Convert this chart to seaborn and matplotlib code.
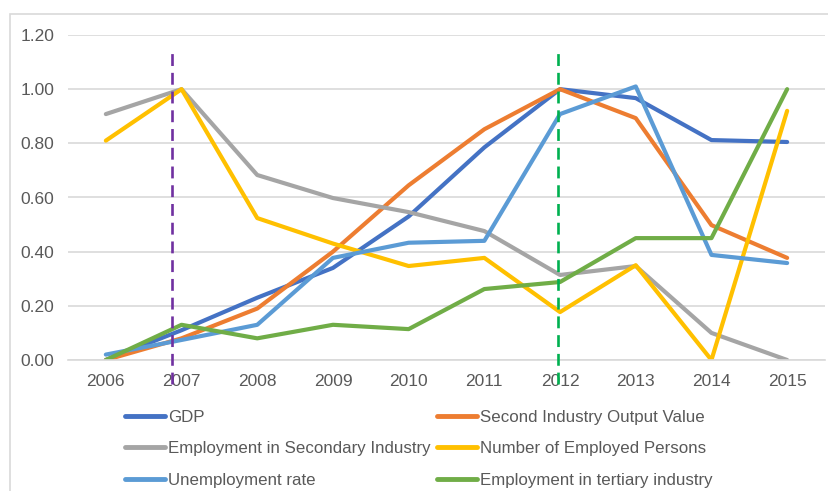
import matplotlib
matplotlib.use("Agg")
import matplotlib.pyplot as plt
import seaborn as sns
import pandas as pd
from matplotlib.patches import Rectangle

years = [2006, 2007, 2008, 2009, 2010, 2011, 2012, 2013, 2014, 2015]
gdp = [0.00, 0.11, 0.23, 0.34, 0.53, 0.785, 1.00, 0.967, 0.812, 0.805]
second_output = [0.00, 0.08, 0.19, 0.40, 0.645, 0.852, 1.00, 0.893, 0.498, 0.377]
emp_secondary = [0.908, 1.00, 0.683, 0.598, 0.546, 0.476, 0.314, 0.347, 0.10, 0.00]
num_employed = [0.81, 1.00, 0.524, 0.43, 0.347, 0.377, 0.177, 0.35, 0.00, 0.92]
unemployment = [0.02, 0.074, 0.13, 0.377, 0.433, 0.44, 0.908, 1.01, 0.388, 0.358]
emp_tertiary = [0.00, 0.13, 0.08, 0.13, 0.114, 0.262, 0.288, 0.45, 0.45, 1.00]

series_names = ["GDP", "Second Industry Output Value", "Employment in Secondary Industry",
                "Number of Employed Persons", "Unemployment rate", "Employment in tertiary industry"]
series_values = [gdp, second_output, emp_secondary, num_employed, unemployment, emp_tertiary]
colors = ["#4472C4", "#ED7D31", "#A5A5A5", "#FFC000", "#5B9BD5", "#70AD47"]

marker_lines = [2006.88, 2011.97]
marker_colors = ["#7030A0", "#00B050"]

yticks = [0.0, 0.2, 0.4, 0.6, 0.8, 1.0, 1.2]

rows = []
for name, vals in zip(series_names, series_values):
    for yr, v in zip(years, vals):
        rows.append({"Year": yr, "Value": v, "Series": name})
df = pd.DataFrame(rows)

sns.set_theme(style="white")
plt.rcParams['font.family'] = ['Liberation Sans', 'DejaVu Sans']

fig = plt.figure(figsize=(8.29, 4.91), dpi=100)
ax = fig.add_axes([68/829, 1-360/491, (825-68)/829, (360-35)/491])

fig.patches.append(Rectangle((10/829, -0.1), 1.2, 1-14/491+0.1, transform=fig.transFigure,
                             fill=False, edgecolor="#d9d9d9", linewidth=1.2, zorder=0))

sns.lineplot(data=df, x="Year", y="Value", hue="Series", hue_order=series_names,
             palette=dict(zip(series_names, colors)), linewidth=3, ax=ax, sort=False)

for xv, c in zip(marker_lines, marker_colors):
    ax.plot([xv, xv], [-0.09, 1.145], color=c, linewidth=1.9, dashes=(4.5, 2.6),
            clip_on=False, zorder=5)

ax.set_xlim(2005.5, 2015.5)
ax.set_ylim(0, 1.2)
ax.set_yticks(yticks)
ax.set_yticklabels([f"{v:.2f}" for v in yticks])
ax.set_xticks(years)
ax.set_xticklabels([str(y) for y in years])
ax.grid(axis="y", color="#d9d9d9", linewidth=1.2)
ax.grid(axis="x", visible=False)
ax.set_axisbelow(True)
for s in ["top", "right", "left"]:
    ax.spines[s].set_visible(False)
ax.spines["bottom"].set_color("#d9d9d9")
ax.spines["bottom"].set_linewidth(1.2)
ax.tick_params(axis="both", length=0, labelcolor="#595959", labelsize=12.5)
ax.tick_params(axis="y", pad=10)
ax.tick_params(axis="x", pad=10)
ax.set_xlabel("")
ax.set_ylabel("")

handles, labels = ax.get_legend_handles_labels()
ax.get_legend().remove()
hmap = dict(zip(labels, handles))
order = [series_names[0], series_names[2], series_names[4],
         series_names[1], series_names[3], series_names[5]]
leg = fig.legend([hmap[n] for n in order], order, ncol=2, loc="upper left",
                 bbox_to_anchor=(118/829, 1-403/491), frameon=False,
                 fontsize=12.2, handlelength=2.4, handletextpad=0.15,
                 columnspacing=0.35, labelspacing=0.97, borderaxespad=0)
for t in leg.get_texts():
    t.set_color("#595959")
for l in leg.get_lines():
    l.set_linewidth(3.5)

fig.savefig("out.png", dpi=100)
